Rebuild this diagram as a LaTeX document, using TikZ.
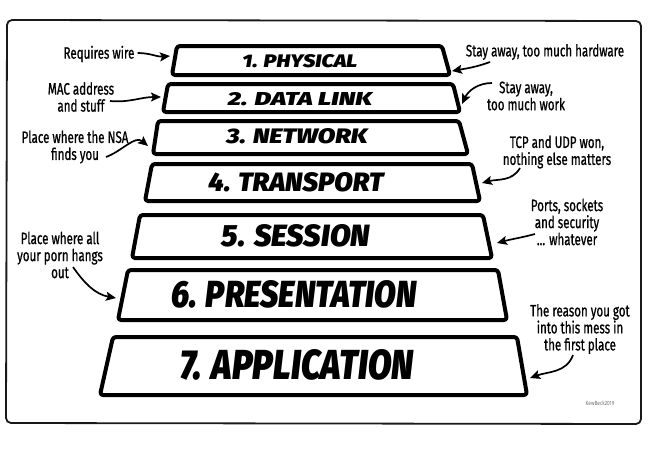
\documentclass[tikz,border=0pt]{standalone}
\usepackage{fontspec}
\usepackage{graphicx}
\usetikzlibrary{arrows.meta}
\newfontfamily\layerfont{Fira Sans Black Italic}
\newfontfamily\notefont{Fira Sans}[FakeStretch=0.7,FakeBold=0.8]
\newfontfamily\signfont{Fira Sans}[FakeStretch=0.8]
\newcommand{\layertext}[3]{\resizebox{#1pt}{#2pt}{\layerfont #3}}

\begin{document}
\begin{tikzpicture}[x=1pt,y=-1pt,
        layer/.style={line width=4pt, rounded corners=3pt, line join=round},
        note/.style={font=\notefont\fontsize{16.5}{17}\selectfont, align=center, inner sep=0pt},
        pointer/.style={line width=1.7pt, -{Stealth[length=10pt,width=9pt,inset=2pt]}}]
        \useasboundingbox (0,0) rectangle (650,450);
        \draw[line width=1.8pt, black!90, rounded corners=5pt] (7,20) -- (641,21) -- (641,424) -- (6,423) -- cycle;
        % the seven layers
        \draw[layer] (177,46) -- (442,46) -- (450,75) -- (172,75) -- cycle;
        \draw[layer] (168,84) -- (453,84) -- (460,112) -- (163,112) -- cycle;
        \draw[layer] (158,121) -- (459,121) -- (468,154) -- (153,154) -- cycle;
        \draw[layer] (152,164) -- (472,164) -- (480,201) -- (145,201) -- cycle;
        \draw[layer] (140,215) -- (483,215) -- (492,258) -- (132,258) -- cycle;
        \draw[layer] (128,270) -- (498,270) -- (507,320) -- (118,320) -- cycle;
        \draw[layer] (113,337) -- (517,337) -- (527,395) -- (100,395) -- cycle;
        \node (physical) at (300,61) {\layertext{115}{13}{1. PHYSICAL}};
        \node (datalink) at (300,99) {\layertext{144}{13}{2. DATA LINK}};
        \node (network) at (297,136) {\layertext{141}{15}{3. NETWORK}};
        \node (transport) at (296,182) {\layertext{175}{19}{4. TRANSPORT}};
        \node (session) at (296,236) {\layertext{148}{22}{5. SESSION}};
        \node (presentation) at (294,294) {\layertext{245}{27}{6. PRESENTATION}};
        \node (application) at (297,365) {\layertext{233}{30}{7. APPLICATION}};
        % notes on the left
        \node[note] (wire) at (99,54) {Requires wire};
        \node[note] (mac) at (81,97) {MAC address\\and stuff};
        \node[note] (nsa) at (75,147) {Place where the NSA\\finds you};
        \node[note] (porn) at (60,255) {Place where all\\your porn hangs\\out};
        % notes on the right
        \node[note] (hardware) at (545,52) {Stay away, too much hardware};
        \node[note] (work) at (526,96) {Stay away,\\too much work};
        \node[note] (tcp) at (557,152) {TCP and UDP won,\\nothing else matters};
        \node[note] (ports) at (567,222) {Ports, sockets\\and security\\... whatever};
        \node[note] (reason) at (580,329) {The reason you got\\into this mess in\\the first place};
        \node[font=\signfont\fontsize{6}{7}\selectfont, black!55] (sign) at (600,403) {KewBeck2019};
        % arrows
        \coordinate (t1) at (170,56);
        \coordinate (t2) at (161,97);
        \coordinate (t3) at (148,146);
        \coordinate (t4) at (116,298);
        \coordinate (t5) at (452,71);
        \coordinate (t6) at (462,104);
        \coordinate (t7) at (482,183);
        \coordinate (t8) at (497,243);
        \coordinate (t9) at (530,378);
        \coordinate (s2) at (110,101);
        \coordinate (s3) at (106,157);
        \coordinate (s4) at (73,267);
        \coordinate (s5) at (490,62);
        \coordinate (s6) at (492,83);
        \coordinate (s7) at (520,168);
        \coordinate (s8) at (535,234);
        \coordinate (s9) at (573,355);
        \draw[pointer] (wire.east) ++(3,-1) to[out=0,in=185] (t1);
        \draw[pointer] (s2) to[out=-5,in=180] (t2);
        \draw[pointer] (s3) to[out=20,in=140] (t3);
        \draw[pointer] (s4) to[out=-55,in=170] (t4);
        \draw[pointer] (s5) to[out=200,in=10] (t5);
        \draw[pointer] (s6) to[out=180,in=65] (t6);
        \draw[pointer] (s7) to[out=240,in=15] (t7);
        \draw[pointer] (s8) to[out=195,in=15] (t8);
        \draw[pointer] (s9) to[out=250,in=20] (t9);
\end{tikzpicture}
\end{document}
